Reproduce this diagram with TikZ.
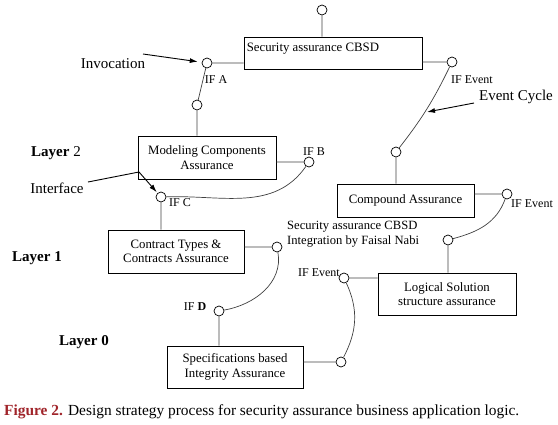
\documentclass[tikz,border=0pt]{standalone}
\usepackage{fontspec}
\setmainfont{Liberation Serif}
\usetikzlibrary{arrows.meta}
\definecolor{figred}{RGB}{160,36,42}

\begin{document}
\begin{tikzpicture}[x=1pt,y=-1pt,
    block/.style={draw,line width=0.8pt,inner sep=0pt,align=center,font=\fontsize{12.8}{14.5}\selectfont},
    port/.style={circle,draw,line width=0.7pt,fill=white,inner sep=0pt,minimum size=10pt},
    wire/.style={line width=0.7pt,black!75},
    iflbl/.style={inner sep=0pt,font=\fontsize{12}{14}\selectfont},
    note/.style={inner sep=0pt,font=\fontsize{15}{17}\selectfont},
    pointer/.style={line width=0.9pt,-{Latex[length=8pt,width=5pt]}}]
    \useasboundingbox (0,0) rectangle (558,424);

    % boxes
    \node (sec) at (333,53) [block,minimum width=178pt,minimum height=32pt,
        label={[anchor=north west,inner xsep=3pt,inner ysep=6pt,font=\fontsize{12.8}{14.5}\selectfont]north west:Security assurance CBSD}] {};
    \node (mod) at (207,157.5) [block,minimum width=138pt,minimum height=43pt] {Modeling Components\\Assurance};
    \node (comp) at (405.5,200.5) [block,minimum width=137pt,minimum height=33pt] {Compound Assurance};
    \node (con) at (176,251.5) [block,minimum width=136pt,minimum height=43pt] {Contract Types \&\\Contracts Assurance};
    \node (spec) at (235,367) [block,minimum width=136pt,minimum height=42pt] {Specifications based\\Integrity Assurance};
    \node (log) at (447,294) [block,minimum width=138pt,minimum height=42pt] {Logical Solution\\structure assurance};

    % interface ports
    \node (top) at (322,10) [port] {};
    \node (ifa) at (207,63) [port] {};
    \node (a2) at (197,105) [port] {};
    \node (ifb) at (309,162) [port] {};
    \node (ifc) at (161,197) [port] {};
    \node (c2) at (277,247) [port] {};
    \node (ifd) at (219,311) [port] {};
    \node (s2) at (341,362) [port] {};
    \node (ife3) at (344,278) [port] {};
    \node (l2) at (448,240) [port] {};
    \node (ife2) at (507,194) [port] {};
    \node (c3) at (396,152) [port] {};
    \node (ife1) at (452,62) [port] {};

    \draw[wire] (top) -- (top |- sec.north)
        (sec.west |- ifa) -- (ifa) (ifa) -- (a2) (a2) -- (a2 |- mod.north)
        (mod.east |- ifb) -- (ifb) (ifc) to[out=2,in=235] (ifb)
        (ifc) -- (ifc |- con.north)
        (con.east |- c2) -- (c2) (c2) to[out=-80,in=10] (ifd)
        (ifd) -- (ifd |- spec.north)
        (spec.east |- s2) -- (s2) (s2) to[out=62,in=-65] (ife3)
        (ife3) -- (log.west |- ife3)
        (l2) -- (l2 |- log.north) (l2) to[out=15,in=250] (ife2)
        (comp.east |- ife2) -- (ife2)
        (c3) -- (c3 |- comp.north) (c3) to[bend right=6] (ife1)
        (sec.east |- ife1) -- (ife1);

    % labels
    \node (ifalbl) at (216,80) [iflbl] {IF A};
    \node (ifblbl) at (314,152) [iflbl] {IF B};
    \node (ifclbl) at (180,203) [iflbl] {IF C};
    \node (ifdlbl) at (195,307) [iflbl] {IF \textbf{D}};
    \node (ife1lbl) at (472,80) [iflbl] {IF Event};
    \node (ife2lbl) at (532,204) [iflbl] {IF Event};
    \node (ife3lbl) at (319,273) [iflbl] {IF Event};
    \node (integ) at (287,234) [iflbl,anchor=west,align=left,font=\fontsize{12.6}{14.5}\selectfont] {Security assurance CBSD\\Integration by Faisal Nabi};

    \node (inv) at (113,64) [note] {Invocation};
    \node (inf) at (57,188) [note] {Interface};
    \node (evc) at (516,97) [note] {Event Cycle};
    \node (lay2) at (56,153) [note] {\textbf{Layer} 2};
    \node (lay1) at (37,258) [note] {\textbf{Layer 1}};
    \node (lay0) at (84,342) [note] {\textbf{Layer 0}};

    % pointers
    \coordinate (invtail) at (143,54);
    \coordinate (inftail) at (88,182);
    \coordinate (infbend) at (139,172);
    \coordinate (evtail) at (474,103);
    \coordinate (evtip) at (427,112);
    \draw[pointer,shorten >=4pt] (invtail) -- (ifa);
    \draw[pointer,shorten >=1pt] (inftail) -- (infbend) -- (ifc);
    \draw[pointer] (evtail) -- (evtip);

    \node (cap) at (4,412) [anchor=west,inner sep=0pt,font=\fontsize{15.4}{17}\selectfont]
        {\textcolor{figred}{\textbf{Figure 2.}} Design strategy process for security assurance business application logic.};
\end{tikzpicture}
\end{document}
